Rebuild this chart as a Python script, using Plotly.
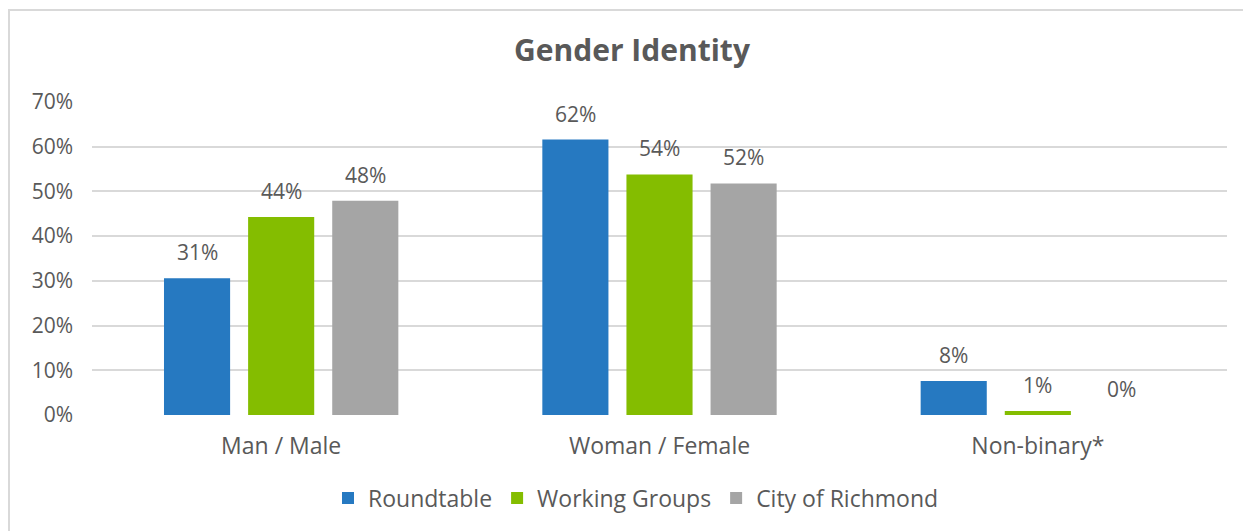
import plotly.graph_objects as go

categorias = ["Man / Male", "Woman / Female", "Non-binary*"]
roundtable = [0.306, 0.616, 0.076]
working_groups = [0.443, 0.538, 0.009]
city_richmond = [0.479, 0.518, 0.0]
series = [
    ("Roundtable", roundtable, "#2679C1"),
    ("Working Groups", working_groups, "#84BD00"),
    ("City of Richmond", city_richmond, "#A5A5A5"),
]

# La página tiene 8px de margen en el body: se descuentan aquí
OFF = 8
W, H = 1251 - OFF, 531 - OFF
ML, MR, MT, MB = 92 - OFF, 24, 102 - OFF, 116
texto = "#595959"
fuente = "Open Sans"

fig = go.Figure()
for nombre, valores, color in series:
    fig.add_trace(go.Bar(
        x=categorias,
        y=valores,
        name=nombre,
        marker=dict(color=color, line=dict(width=0)),
        hoverinfo="skip",
    ))

# Etiquetas de datos encima de cada barra
desplaz = [-84, 0, 84]
for i, (nombre, valores, color) in enumerate(series):
    for cat, v in zip(categorias, valores):
        fig.add_annotation(
            x=cat, y=v, text=f"{v:.0%}", showarrow=False,
            xanchor="center", yanchor="bottom",
            xshift=desplaz[i], yshift=10,
            font=dict(size=21, color=texto, family=fuente),
        )

# Borde del área del gráfico
pw, ph = W - ML - MR, H - MT - MB
fig.add_shape(
    type="rect", xref="paper", yref="paper",
    x0=(1 - ML) / pw, x1=(W + 10 - ML) / pw,
    y0=-(H + 10 - MT - ph) / ph, y1=(H - MB - 2) / ph,
    line=dict(color="#D9D9D9", width=2), fillcolor="rgba(0,0,0,0)",
    layer="below",
)

fig.update_layout(
    width=W, height=H,
    margin=dict(l=ML, r=MR, t=MT, b=MB),
    title=dict(
        text="<b>Gender Identity</b>",
        x=(632 - OFF) / W, xanchor="center", y=1 - (50 - OFF) / H, yanchor="middle",
        font=dict(size=30, color=texto, family=fuente),
    ),
    barmode="group",
    bargap=0.333,
    bargroupgap=0.214,
    plot_bgcolor="white",
    paper_bgcolor="white",
    font=dict(family=fuente, size=21, color=texto),
    xaxis=dict(
        showgrid=False, showline=False, zeroline=False,
        tickfont=dict(size=23, color=texto),
        ticklabelstandoff=15,
    ),
    yaxis=dict(
        range=[0, 0.7], dtick=0.1, tickformat=".0%",
        showgrid=True, gridcolor="#D9D9D9", gridwidth=2,
        zeroline=False, showline=False,
        tickfont=dict(size=21, color=texto),
        ticklabelstandoff=18,
    ),
    legend=dict(
        orientation="h", x=(636 - 92) / pw, xanchor="center",
        y=-(498 - 415) / ph, yanchor="middle",
        font=dict(size=23, color=texto),
        itemwidth=30, traceorder="normal",
    ),
)

fig.write_html("out.html")
